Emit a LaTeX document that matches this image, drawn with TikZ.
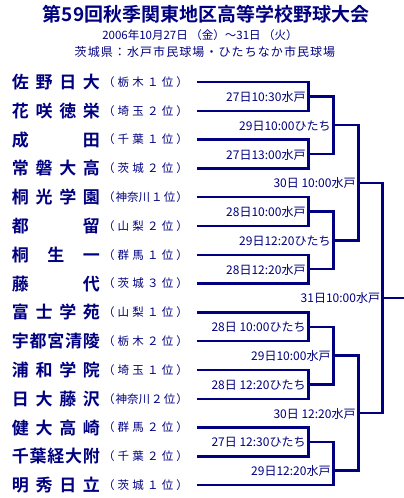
\documentclass[tikz,border=0pt]{standalone}
\usepackage{fontspec}
\setmainfont{Noto Sans CJK JP}
\newfontfamily\jpbold{Noto Sans CJK JP Bold}
\newfontfamily\jpspaced[LetterSpace=9]{Noto Sans CJK JP}
\definecolor{navy}{RGB}{0,0,128}
\begin{document}
\begin{tikzpicture}[x=1pt,y=-1pt,
  every node/.style={inner sep=0pt,outer sep=0pt,text=navy},
  title/.style={font=\jpbold\fontsize{19}{20}\selectfont},
  sub/.style={font=\fontsize{11.5}{12}\selectfont},
  venue/.style={font=\jpspaced\fontsize{12}{13}\selectfont},
  team/.style={anchor=west,font=\jpbold\fontsize{17}{18}\selectfont},
  pref/.style={anchor=west,font=\fontsize{11.5}{12}\selectfont},
  match/.style={anchor=east,font=\fontsize{12}{13}\selectfont},
  bline/.style={draw=navy,line width=2.4pt,line join=miter}]
\useasboundingbox (0,0) rectangle (404,498);
\fill[white] (0,0) rectangle (404,498);
% headings
\node[title] (ttl) at (206,14) {第59回秋季関東地区高等学校野球大会};
\node[sub] (dt) at (200,35.5) {2006年10月27日 （金）～31日 （火）};
\node[venue] (vn) at (205,52) {茨城県：水戸市民球場・ひたちなか市民球場};
% teams
\newcommand\tw[1]{\makebox[88pt][s]{#1}}
\newcommand\pw[1]{\makebox[85pt][s]{#1}}
\node[team] (n0) at (12,82) {\tw{佐\hfil 野\hfil 日\hfil 大}};
\node[team] (n1) at (12,110.8) {\tw{花\hfil 咲\hfil 徳\hfil 栄}};
\node[team] (n2) at (12,139.6) {\tw{成\hfil 田}};
\node[team] (n3) at (12,168.4) {\tw{常\hfil 磐\hfil 大\hfil 高}};
\node[team] (n4) at (12,197.2) {\tw{桐\hfil 光\hfil 学\hfil 園}};
\node[team] (n5) at (12,226) {\tw{都\hfil 留}};
\node[team] (n6) at (12,254.8) {\tw{桐\hfil 生\hfil 一}};
\node[team] (n7) at (12,283.6) {\tw{藤\hfil 代}};
\node[team] (n8) at (12,312.4) {\tw{富\hfil 士\hfil 学\hfil 苑}};
\node[team] (n9) at (12,341.2) {\tw{宇\hfil 都\hfil 宮\hfil 清\hfil 陵}};
\node[team] (n10) at (12,370) {\tw{浦\hfil 和\hfil 学\hfil 院}};
\node[team] (n11) at (12,398.8) {\tw{日\hfil 大\hfil 藤\hfil 沢}};
\node[team] (n12) at (12,427.6) {\tw{健\hfil 大\hfil 高\hfil 崎}};
\node[team] (n13) at (12,456.4) {\tw{千\hfil 葉\hfil 経\hfil 大\hfil 附}};
\node[team] (n14) at (12,485.2) {\tw{明\hfil 秀\hfil 日\hfil 立}};
% prefectures
\node[pref] (p0) at (103,82) {\pw{（\hfil 栃\hfil 木\hfil １\hfil 位\hfil ）}};
\node[pref] (p1) at (103,110.8) {\pw{（\hfil 埼\hfil 玉\hfil ２\hfil 位\hfil ）}};
\node[pref] (p2) at (103,139.6) {\pw{（\hfil 千\hfil 葉\hfil １\hfil 位\hfil ）}};
\node[pref] (p3) at (103,168.4) {\pw{（\hfil 茨\hfil 城\hfil ２\hfil 位\hfil ）}};
\node[pref] (p4) at (103,197.2) {\pw{（\hfil 神奈川\hfil １\hfil 位\hfil ）}};
\node[pref] (p5) at (103,226) {\pw{（\hfil 山\hfil 梨\hfil ２\hfil 位\hfil ）}};
\node[pref] (p6) at (103,254.8) {\pw{（\hfil 群\hfil 馬\hfil １\hfil 位\hfil ）}};
\node[pref] (p7) at (103,283.6) {\pw{（\hfil 茨\hfil 城\hfil ３\hfil 位\hfil ）}};
\node[pref] (p8) at (103,312.4) {\pw{（\hfil 山\hfil 梨\hfil １\hfil 位\hfil ）}};
\node[pref] (p9) at (103,341.2) {\pw{（\hfil 栃\hfil 木\hfil ２\hfil 位\hfil ）}};
\node[pref] (p10) at (103,370) {\pw{（\hfil 埼\hfil 玉\hfil １\hfil 位\hfil ）}};
\node[pref] (p11) at (103,398.8) {\pw{（\hfil 神奈川\hfil ２\hfil 位\hfil ）}};
\node[pref] (p12) at (103,427.6) {\pw{（\hfil 群\hfil 馬\hfil ２\hfil 位\hfil ）}};
\node[pref] (p13) at (103,456.4) {\pw{（\hfil 千\hfil 葉\hfil ２\hfil 位\hfil ）}};
\node[pref] (p14) at (103,485.2) {\pw{（\hfil 茨\hfil 城\hfil １\hfil 位\hfil ）}};
% line starts
\foreach \k/\y in {0/82,1/110.8,2/139.6,3/168.4,4/197.2,5/226,6/254.8,7/283.6,8/312.4,9/341.2,10/370,11/398.8,12/427.6,13/456.4,14/485.2}
  \coordinate (s\k) at (197,\y);
% junctions
\coordinate (j0) at (308.5,96.4);
\coordinate (j1) at (308.5,154);
\coordinate (j2) at (308.5,211.6);
\coordinate (j3) at (308.5,269.2);
\coordinate (j4) at (308.5,326.8);
\coordinate (j5) at (308.5,384.4);
\coordinate (j6) at (308.5,442);
\coordinate (k0) at (333.5,125.2);
\coordinate (k1) at (333.5,240.4);
\coordinate (k2) at (333.5,355.6);
\coordinate (k3) at (333.5,470.5);
\coordinate (l0) at (358.5,182.8);
\coordinate (l1) at (358.5,413);
\coordinate (f) at (382.5,297.9);
\coordinate (fend) at (404,297.9);
% bracket lines
\draw[bline] (s0) -| (j0) |- (s1);
\draw[bline] (s2) -| (j1) |- (s3);
\draw[bline] (s4) -| (j2) |- (s5);
\draw[bline] (s6) -| (j3) |- (s7);
\draw[bline] (s8) -| (j4) |- (s9);
\draw[bline] (s10) -| (j5) |- (s11);
\draw[bline] (s12) -| (j6) |- (s13);
\draw[bline] (j0) -| (k0) |- (j1);
\draw[bline] (j2) -| (k1) |- (j3);
\draw[bline] (j4) -| (k2) |- (j5);
\draw[bline] (j6) -| (k3) |- (s14);
\draw[bline] (k0) -| (l0) |- (k1);
\draw[bline] (k2) -| (l1) |- (k3);
\draw[bline] (l0) -| (f) |- (l1);
\draw[bline] (f) -- (fend);
% match labels
\node[match] (m0) at (305.5,96.9) {27日10:30水戸};
\node[match] (m1) at (305.5,154.5) {27日13:00水戸};
\node[match] (m2) at (305.5,212.1) {28日10:00水戸};
\node[match] (m3) at (305.5,269.7) {28日12:20水戸};
\node[match] (m4) at (305.5,327.3) {28日 10:00ひたち};
\node[match] (m5) at (305.5,384.9) {28日 12:20ひたち};
\node[match] (m6) at (305.5,442.5) {27日 12:30ひたち};
\node[match] (q0) at (330.5,125.7) {29日10:00ひたち};
\node[match] (q1) at (330.5,240.9) {29日12:20ひたち};
\node[match] (q2) at (330.5,356.1) {29日10:00水戸};
\node[match] (q3) at (330.5,471) {29日12:20水戸};
\node[match] (r0) at (355.5,183.3) {30日 10:00水戸};
\node[match] (r1) at (355.5,413.5) {30日 12:20水戸};
\node[match] (fin) at (380,298.4) {31日10:00水戸};
\end{tikzpicture}
\end{document}
